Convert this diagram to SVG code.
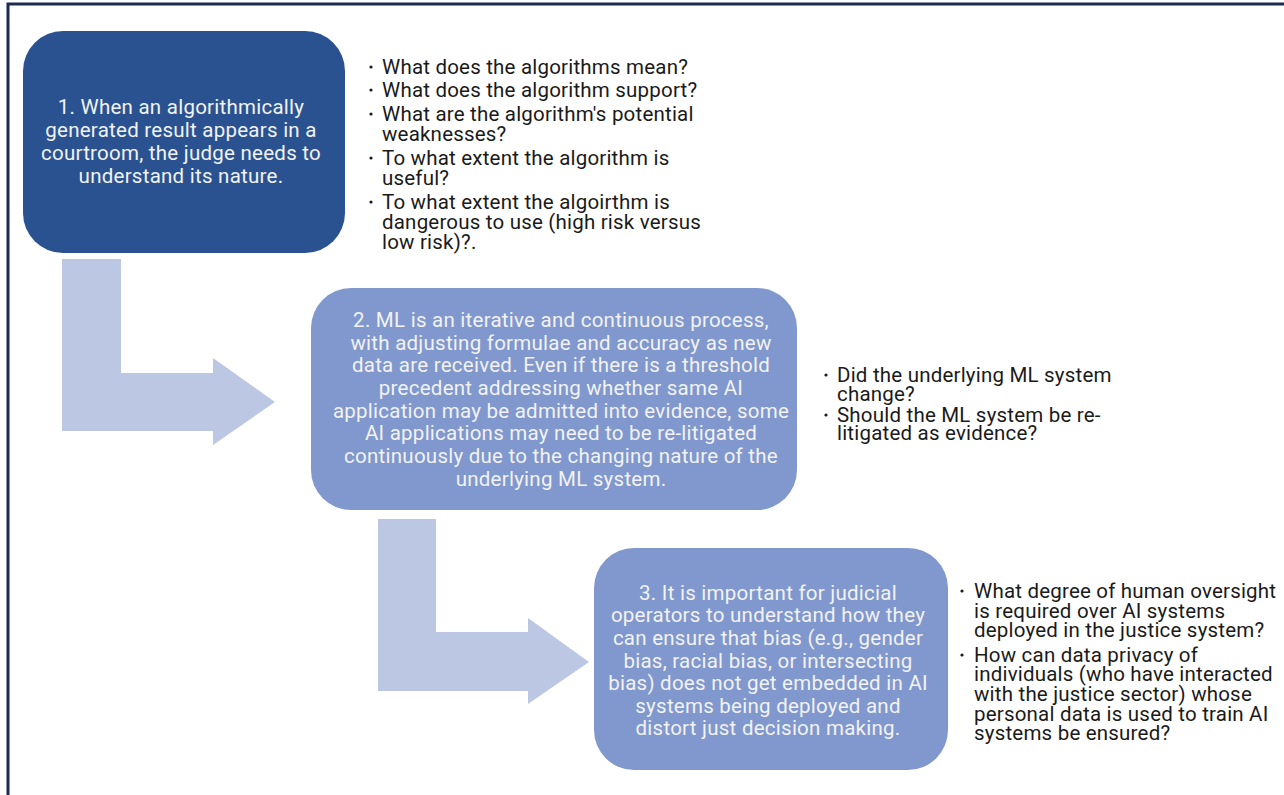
<svg xmlns="http://www.w3.org/2000/svg" width="1284" height="795" viewBox="0 0 1284 795">
<style>
.box1{fill:#2a5291;}
.box2{fill:#8098cd;}
.arr{fill:#bcc7e3;}
.bt{font-family:Roboto,"Liberation Sans",sans-serif;font-size:20.5px;letter-spacing:0.25px;fill:#f2f2f2;text-anchor:middle;}
.q{font-family:Roboto,"Liberation Sans",sans-serif;font-size:20.5px;letter-spacing:0.2px;fill:#1a1a1a;}
.dot{fill:#1a1a1a;}
</style>
<rect x="0" y="0" width="1284" height="795" fill="#ffffff"/>
<rect id="frame" x="8" y="4" width="1300" height="820" fill="none" stroke="#1c2b52" stroke-width="3"/>
<g id="connectors">
<polygon class="arr" points="62,259 121,259 121,373 213,373 213,358 275,402 213,445 213,431 62,431"/>
<polygon class="arr" points="378,519 436,519 436,632 528,632 528,618 589,662 528,704 528,691 378,691"/>
</g>
<g id="node1">
<rect class="box1" x="23" y="31" width="322" height="222" rx="40"/>
<text class="bt"><tspan x="181" y="114">1. When an algorithmically</tspan><tspan x="181" y="137">generated result appears in a</tspan><tspan x="181" y="160">courtroom, the judge needs to</tspan><tspan x="181" y="183">understand its nature.</tspan></text>
</g>
<g id="node2">
<rect class="box2" x="311" y="288" width="486" height="222" rx="40"/>
<text class="bt"><tspan x="561" y="327">2. ML is an iterative and continuous process,</tspan><tspan x="561" y="350">with adjusting formulae and accuracy as new</tspan><tspan x="561" y="372">data are received. Even if there is a threshold</tspan><tspan x="561" y="395">precedent addressing whether same AI</tspan><tspan x="561" y="418">application may be admitted into evidence, some</tspan><tspan x="561" y="440">AI applications may need to be re-litigated</tspan><tspan x="561" y="463">continuously due to the changing nature of the</tspan><tspan x="561" y="486">underlying ML system.</tspan></text>
</g>
<g id="node3">
<rect class="box2" x="594" y="548" width="354" height="222" rx="40"/>
<text class="bt"><tspan x="768" y="600">3. It is important for judicial</tspan><tspan x="768" y="622">operators to understand how they</tspan><tspan x="768" y="645">can ensure that bias (e.g., gender</tspan><tspan x="768" y="668">bias, racial bias, or intersecting</tspan><tspan x="768" y="690">bias) does not get embedded in AI</tspan><tspan x="768" y="713">systems being deployed and</tspan><tspan x="768" y="735">distort just decision making.</tspan></text>
</g>
<g id="questions1">
<circle class="dot" cx="371" cy="67" r="1.6"/><circle class="dot" cx="371" cy="90" r="1.6"/><circle class="dot" cx="371" cy="114" r="1.6"/><circle class="dot" cx="371" cy="158" r="1.6"/><circle class="dot" cx="371" cy="202" r="1.6"/>
<text class="q"><tspan x="382" y="74">What does the algorithms mean?</tspan><tspan x="382" y="97">What does the algorithm support?</tspan><tspan x="382" y="121">What are the algorithm's potential</tspan><tspan x="382" y="141">weaknesses?</tspan><tspan x="382" y="165">To what extent the algorithm is</tspan><tspan x="382" y="185">useful?</tspan><tspan x="382" y="209">To what extent the algoirthm is</tspan><tspan x="382" y="229">dangerous to use (high risk versus</tspan><tspan x="382" y="249">low risk)?.</tspan></text>
</g>
<g id="questions2">
<circle class="dot" cx="826" cy="375" r="1.6"/><circle class="dot" cx="826" cy="415" r="1.6"/>
<text class="q"><tspan x="837" y="382">Did the underlying ML system</tspan><tspan x="837" y="401">change?</tspan><tspan x="837" y="422">Should the ML system be re-</tspan><tspan x="837" y="440">litigated as evidence?</tspan></text>
</g>
<g id="questions3">
<circle class="dot" cx="962" cy="591" r="1.6"/><circle class="dot" cx="962" cy="655" r="1.6"/>
<text class="q"><tspan x="974" y="598">What degree of human oversight</tspan><tspan x="974" y="618">is required over AI systems</tspan><tspan x="974" y="637">deployed in the justice system?</tspan><tspan x="974" y="662">How can data privacy of</tspan><tspan x="974" y="681">individuals (who have interacted</tspan><tspan x="974" y="701">with the justice sector) whose</tspan><tspan x="974" y="721">personal data is used to train AI</tspan><tspan x="974" y="740">systems be ensured?</tspan></text>
</g>
</svg>
